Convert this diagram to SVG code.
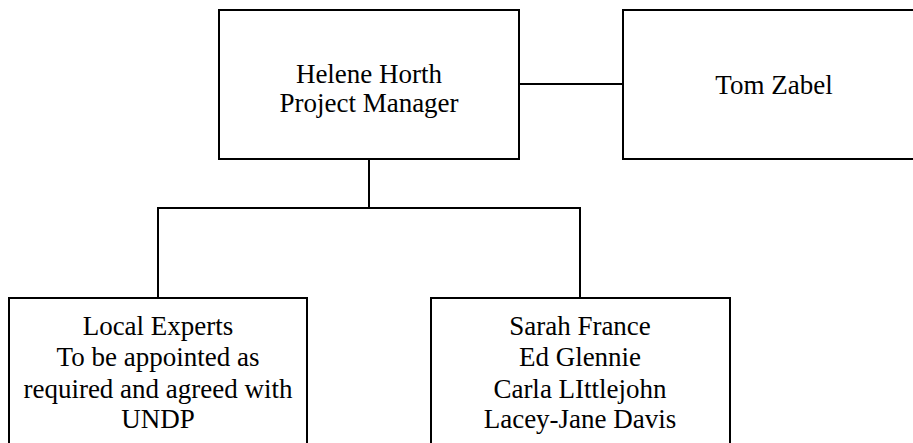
<svg xmlns="http://www.w3.org/2000/svg" width="913" height="443" viewBox="0 0 913 443">
<style>
.box{fill:#fff;stroke:#000;stroke-width:2}
.ln{fill:none;stroke:#000;stroke-width:2}
text{font-family:"Liberation Serif","Times New Roman",serif;font-size:27px;fill:#000;text-anchor:middle}
</style>
<rect width="913" height="443" fill="#fff"/>
<g id="connectors">
<line class="ln" x1="519" y1="84" x2="623" y2="84"/>
<line class="ln" x1="369" y1="159" x2="369" y2="208"/>
<polyline class="ln" points="158,298 158,208 580,208 580,298"/>
</g>
<g id="helene">
<rect class="box" x="219" y="10" width="300" height="149"/>
<text x="369" y="83">Helene Horth</text>
<text x="369" y="112">Project Manager</text>
</g>
<g id="tom">
<rect class="box" x="623" y="10" width="305" height="149"/>
<text x="774" y="94">Tom Zabel</text>
</g>
<g id="local">
<rect class="box" x="9" y="298" width="298" height="160"/>
<text x="158" y="335">Local Experts</text>
<text x="158" y="366">To be appointed as</text>
<text x="158" y="398">required and agreed with</text>
<text x="158" y="428">UNDP</text>
</g>
<g id="team">
<rect class="box" x="431" y="298" width="299" height="160"/>
<text x="580" y="335">Sarah France</text>
<text x="580" y="366">Ed Glennie</text>
<text x="580" y="398">Carla LIttlejohn</text>
<text x="580" y="428">Lacey-Jane Davis</text>
</g>
</svg>
